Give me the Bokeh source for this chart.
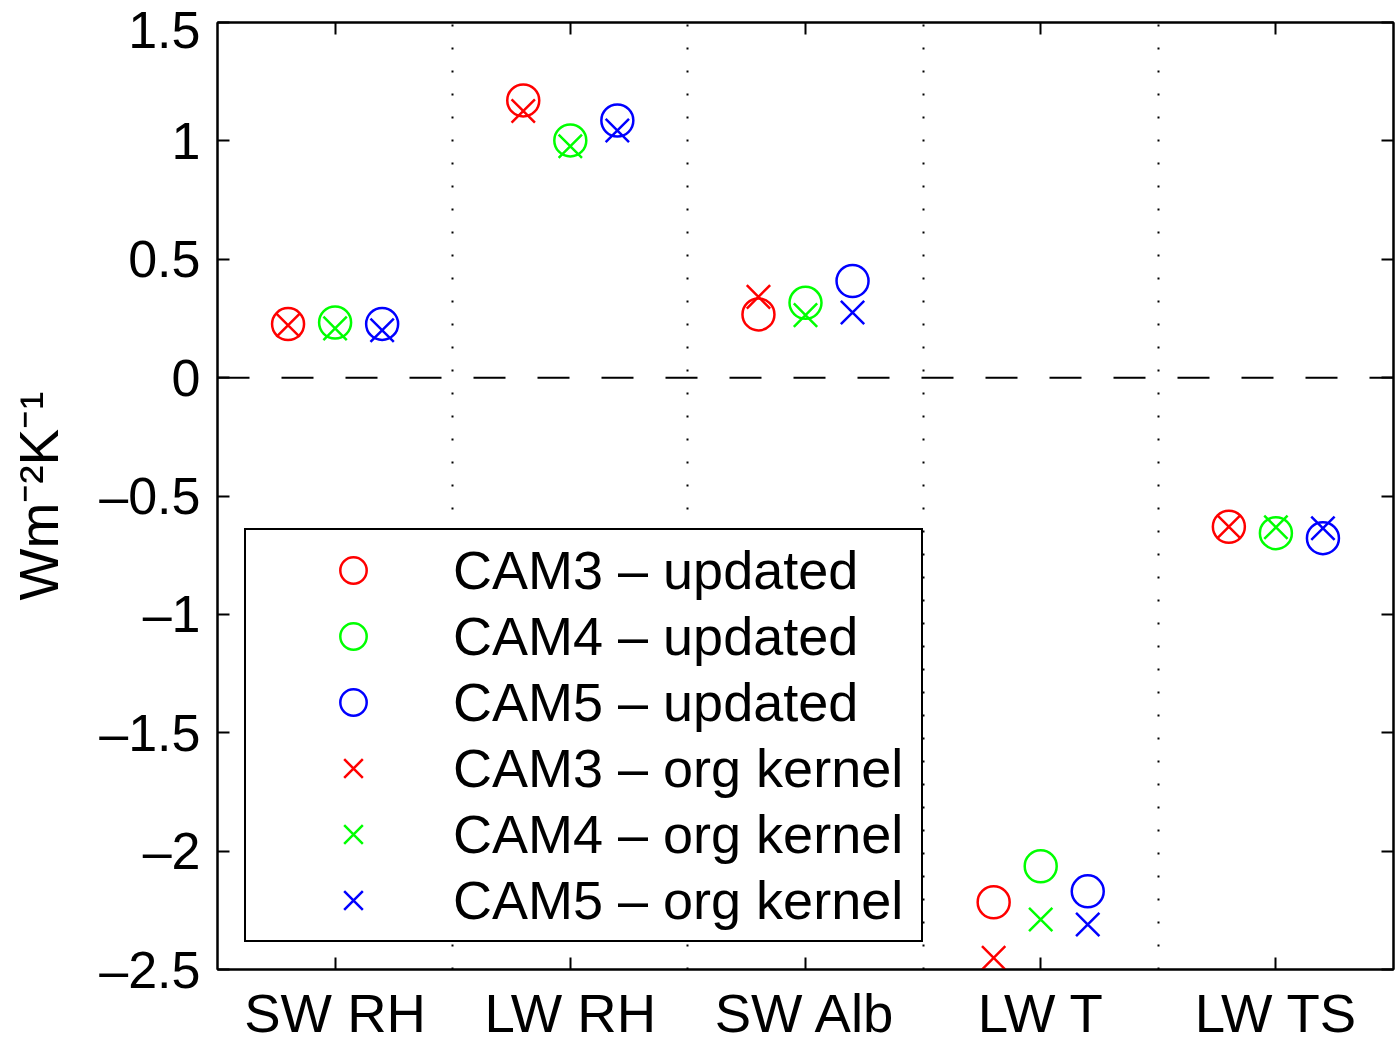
from bokeh.plotting import figure
from bokeh.models import FixedTicker, Span, Legend, LegendItem, LinearAxis
from bokeh.embed import file_html
from bokeh.resources import INLINE

# Feedback categories on the x axis
categories = ["SW RH", "LW RH", "SW Alb", "LW T", "LW TS"]

# Global-mean feedbacks (W m^-2 K^-1), updated kernels
cam3_updated = [0.226, 1.171, 0.267, -2.216, -0.630]
cam4_updated = [0.233, 1.002, 0.316, -2.064, -0.657]
cam5_updated = [0.227, 1.086, 0.408, -2.170, -0.678]

# Same feedbacks computed with the original kernels
cam3_org = [0.221, 1.126, 0.341, -2.451, -0.630]
cam4_org = [0.208, 0.977, 0.264, -2.289, -0.632]
cam5_org = [0.200, 1.044, 0.275, -2.310, -0.636]

y_ticks = [-2.5, -2, -1.5, -1, -0.5, 0, 0.5, 1, 1.5]
y_tick_labels = ["–2.5", "–2", "–1.5", "–1", "–0.5", "0", "0.5", "1", "1.5"]

models = ["CAM3", "CAM4", "CAM5"]
colors = ["#ff0000", "#00ff00", "#0000ff"]
dodge = [-0.2, 0.0, 0.2]
updated = [cam3_updated, cam4_updated, cam5_updated]
org = [cam3_org, cam4_org, cam5_org]

FONT = "Liberation Sans"

p = figure(width=1395, height=1046, x_range=(0.5, 5.5), y_range=(-2.5, 1.5),
           output_backend="svg", toolbar_location=None,
           min_border_left=217, min_border_right=2, min_border_top=22, min_border_bottom=76)
p.background_fill_color = "white"
p.border_fill_color = "white"
p.outline_line_color = "black"
p.outline_line_width = 2

xpos = list(range(1, len(categories) + 1))

# bottom axis with category names, left axis with values
p.xaxis.ticker = FixedTicker(ticks=xpos)
p.xaxis.major_label_overrides = {i: c for i, c in zip(xpos, categories)}
p.yaxis.ticker = FixedTicker(ticks=y_ticks)
p.yaxis.major_label_overrides = {t: s for t, s in zip(y_ticks, y_tick_labels)}
for ax in (p.xaxis[0], p.yaxis[0]):
    ax.axis_line_width = 2
    ax.major_tick_line_width = 2
    ax.major_tick_in = 12
    ax.major_tick_out = 0
    ax.minor_tick_line_color = None
    ax.major_label_text_font = FONT
    ax.major_label_text_color = "black"
p.xaxis.major_label_text_font_size = "54.5px"
p.yaxis.major_label_text_font_size = "52px"
p.xaxis.major_label_standoff = 13
p.yaxis.major_label_standoff = 17
p.yaxis.axis_label = "Wm⁻²K⁻¹"
p.yaxis.axis_label_text_font = FONT
p.yaxis.axis_label_text_font_size = "55px"
p.yaxis.axis_label_text_font_style = "normal"
p.yaxis.axis_label_text_color = "black"
p.yaxis.axis_label_standoff = 26

# mirrored tick marks on top and right
top = LinearAxis(ticker=FixedTicker(ticks=xpos),
                 major_label_overrides={i: "" for i in xpos})
right = LinearAxis(ticker=FixedTicker(ticks=y_ticks),
                   major_label_overrides={t: "" for t in y_ticks})
for ax in (top, right):
    ax.axis_line_width = 2
    ax.major_tick_line_width = 2
    ax.major_tick_in = 12
    ax.major_tick_out = 0
    ax.minor_tick_line_color = None
    ax.major_label_standoff = 0
    ax.major_label_text_font_size = "1px"
p.add_layout(top, "above")
p.add_layout(right, "right")

# dotted separators between categories
p.xgrid.ticker = FixedTicker(ticks=[1.5, 2.5, 3.5, 4.5])
p.xgrid.grid_line_color = "black"
p.xgrid.grid_line_dash = "2 21"
p.xgrid.grid_line_width = 2
p.ygrid.grid_line_color = None

p.add_layout(Span(location=0, dimension="width", line_color="black",
                  line_dash="32 32", line_width=2))

circle_r = []
cross_r = []
for m in range(3):
    xs = [x + dodge[m] for x in xpos]
    cr = p.scatter(xs, updated[m], marker="circle", size=32, fill_color=None,
                   line_color=colors[m], line_width=2.5)
    xr = p.scatter(xs, org[m], marker="x", size=33,
                   line_color=colors[m], line_width=2.5)
    circle_r.append(cr)
    cross_r.append(xr)

items = [LegendItem(label=f"{models[m]} – updated", renderers=[circle_r[m]]) for m in range(3)]
items += [LegendItem(label=f"{models[m]} – org kernel", renderers=[cross_r[m]]) for m in range(3)]

legend = Legend(items=items, location=(27, 27), orientation="vertical",
                label_text_font=FONT, label_text_font_size="54px", label_text_color="black",
                glyph_width=200, glyph_height=66, label_height=66, label_width=461,
                label_standoff=0, spacing=0, padding=7, margin=0,
                border_line_color="black", border_line_width=2, border_line_alpha=1.0,
                background_fill_color="white", background_fill_alpha=1.0)
p.add_layout(legend, "center")

open("out.html", "w").write(file_html(p, INLINE))
